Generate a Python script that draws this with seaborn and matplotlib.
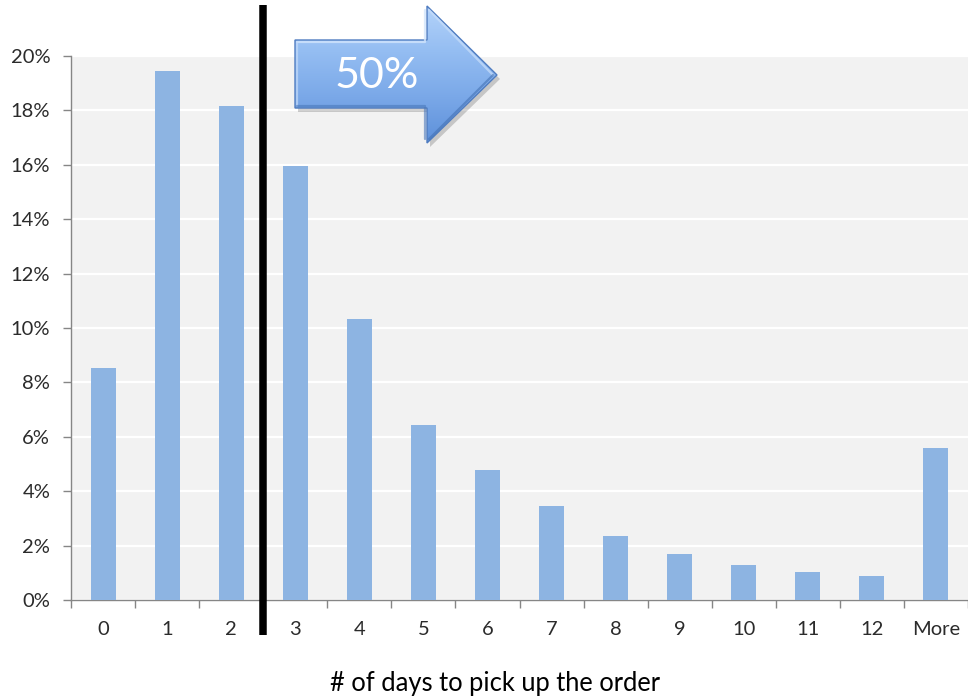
import matplotlib
matplotlib.use("Agg")
import matplotlib.pyplot as plt
import matplotlib.transforms as mtransforms
from matplotlib.colors import LinearSegmentedColormap
from matplotlib.patches import Polygon
from matplotlib.ticker import FixedLocator, FuncFormatter
import numpy as np
import pandas as pd
import seaborn as sns

# Share of orders by number of days until pickup (percent)
days = ["0", "1", "2", "3", "4", "5", "6", "7", "8", "9", "10", "11", "12", "More"]
share = [8.53, 19.46, 18.17, 15.97, 10.33, 6.43, 4.78, 3.46, 2.36, 1.69, 1.29, 1.02, 0.88, 5.60]
y_ticks = [0, 2, 4, 6, 8, 10, 12, 14, 16, 18, 20]
cutoff_label = "50%"
x_title = "# of days to pick up the order"

sns.set_style("whitegrid", {
    "axes.facecolor": "#f2f2f2",
    "grid.color": "white",
    "axes.edgecolor": "#868686",
})
plt.rcParams["font.family"] = ["Lato", "DejaVu Sans"]

W, H = 968, 697
fig = plt.figure(figsize=(W / 100, H / 100), dpi=100)
fig.patch.set_facecolor("white")

ax = fig.add_axes([71 / W, 1 - 600 / H, 897 / W, 544 / H])
df = pd.DataFrame({"days": days, "share": share})
sns.barplot(data=df, x="days", y="share", color="#8db4e2", saturation=1,
            width=0.39, ax=ax, zorder=3, linewidth=0, edgecolor="none")

ax.set_xlim(-0.5, len(days) - 0.5)
ax.set_ylim(0, 20)
ax.set_xlabel("")
ax.set_ylabel("")

ax.yaxis.set_major_locator(FixedLocator(y_ticks))
ax.yaxis.set_major_formatter(FuncFormatter(lambda v, _: f"{v:.0f}%"))
ax.grid(axis="y", color="white", linewidth=1.6)
ax.grid(axis="x", visible=False)
ax.set_axisbelow(True)

for side in ("top", "right"):
    ax.spines[side].set_visible(False)
for side in ("left", "bottom"):
    ax.spines[side].set_color("#868686")
    ax.spines[side].set_linewidth(1.0)

# category ticks sit between the bars
ax.set_xticks(np.arange(len(days)))
ax.set_xticklabels(days)
ax.set_xticks(np.arange(-0.5, len(days)), minor=True)
ax.tick_params(axis="x", which="major", length=0, pad=15, labelsize=14.5,
               labelcolor="#2b2b2b")
ax.tick_params(axis="x", which="minor", bottom=True, length=5.5, width=1,
               color="#868686", direction="out")
ax.tick_params(axis="y", which="major", left=True, length=6, width=1,
               color="#868686", direction="out", pad=9, labelsize=14.5,
               labelcolor="#2b2b2b")

# cutoff line between day 2 and day 3
blend = mtransforms.blended_transform_factory(ax.transData, ax.transAxes)
ax.plot([2.5, 2.5], [1 + 51 / 544, -35 / 544], transform=blend, color="black",
        linewidth=5.4, solid_capstyle="butt", clip_on=False, zorder=6)

fig.text(495 / W, 1 - 683 / H, x_title, ha="center", va="center",
         fontsize=18.4, color="black")

# block arrow callout drawn on a pixel-space overlay
ov = fig.add_axes([0, 0, 1, 1])
ov.patch.set_alpha(0)
ov.axis("off")
ov.set_zorder(20)

pts = np.array([(295, 40), (427, 40), (427, 6), (497, 75),
                (427, 143), (427, 108), (295, 108)], dtype=float)
shadow = Polygon(pts + np.array([3, 4]), closed=True, facecolor="black",
                 alpha=0.18, edgecolor="none")
ov.add_patch(shadow)
body = Polygon(pts, closed=True, facecolor="none", edgecolor="#4f7cc0",
               linewidth=1.0, zorder=3)
ov.add_patch(body)

grad_cmap = LinearSegmentedColormap.from_list(
    "arrow", ["#b4d3fa", "#94bdf2", "#7aa8e8", "#5d90da"])
grad = np.linspace(0, 1, 256).reshape(-1, 1)
img = ov.imshow(grad, cmap=grad_cmap, extent=(295, 497, 143, 6),
                aspect="auto", origin="upper", zorder=2)
img.set_clip_path(body)

# bevel highlights along the upper edges, darker along the lower edges
ov.plot([297, 425, 425], [42, 42, 10], color="#d2e5fc", linewidth=1.6,
        alpha=0.8, zorder=3)
ov.plot([429, 493], [10, 75], color="#c8defa", linewidth=1.6, alpha=0.7,
        zorder=3)
ov.plot([297, 297], [42, 106], color="#c4dbf9", linewidth=1.6, alpha=0.7,
        zorder=3)
ov.plot([297, 425, 425], [106, 106, 139], color="#4a78ba", linewidth=1.6,
        alpha=0.6, zorder=3)
ov.plot([429, 493], [139, 75], color="#4472b4", linewidth=1.6, alpha=0.6,
        zorder=3)

ov.text(377, 76, cutoff_label, color="white", fontsize=31,
        ha="center", va="center", zorder=4)

ov.set_xlim(0, W)
ov.set_ylim(H, 0)

fig.savefig("out.png", dpi=100, facecolor="white")
